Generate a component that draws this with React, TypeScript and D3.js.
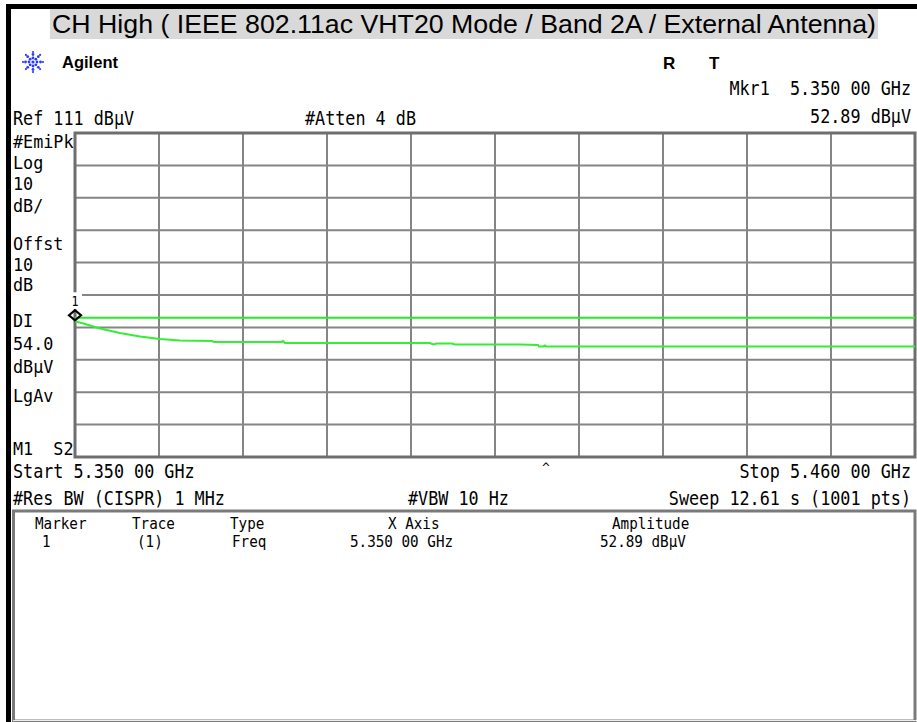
import * as d3 from "d3"

// ---- chart values ----
const TITLE = "CH High ( IEEE 802.11ac VHT20 Mode / Band 2A / External Antenna)"
const REF_LEVEL = 111
const DB_PER_DIV = 10
const DIVS = 10
const START_GHZ = 5.35
const STOP_GHZ = 5.46
const DISPLAY_LINE = 54.0
const MARKER_FREQ = 5.35
const MARKER_AMP = 52.89

const traceFreq = [
  5.35, 5.35131, 5.35327, 5.35589, 5.35851, 5.36113, 5.36375, 5.36794, 5.3682,
  5.37711, 5.37724, 5.3775, 5.39649, 5.39688, 5.3974, 5.39936, 5.39976, 5.40827,
  5.41063, 5.41076, 5.41129, 5.41155, 5.41168, 5.46,
]
const traceAmp = [
  52.89, 52.05, 50.66, 49.27, 48.19, 47.42, 46.96, 46.8, 46.49,
  46.49, 46.8, 46.19, 46.19, 45.73, 46.03, 46.03, 45.73, 45.73,
  45.57, 45.11, 45.11, 45.42, 45.11, 45.11,
]

const sideLabels = ["#EmiPk", "Log", "10", "dB/", "Offst", "10", "dB", "DI", "54.0", "dBµV", "LgAv", "M1  S2"]
const tableHead = ["Marker", "Trace", "Type", "X Axis", "Amplitude"]
const tableRow = ["1", "(1)", "Freq", "5.350 00 GHz", "52.89 dBµV"]

// layout
const W = 917
const H = 722
const plot = { left: 75, right: 915, top: 133, bottom: 457 }
const MONO = "DejaVu Sans Mono"
const SANS = "Liberation Sans, Arial, sans-serif"
const MONO_ADV = 0.602 // DejaVu Sans Mono advance per em

// monospace readout squeezed horizontally like the analyzer's pixel font
function Mono({ x, y, s, anchor = "start", size = 20, adv = 10.1 }: any) {
  const sx = adv / (size * MONO_ADV)
  return (
    <g transform={`translate(${x},${y}) scale(${sx},1)`}>
      <text
        x={0}
        y={0}
        fontFamily={MONO}
        fontSize={size}
        textAnchor={anchor}
        fill="#000"
        style={{ whiteSpace: "pre" }}
      >
        {s}
      </text>
    </g>
  )
}

export default function App() {
  const x = d3.scaleLinear().domain([START_GHZ, STOP_GHZ]).range([plot.left, plot.right])
  const y = d3
    .scaleLinear()
    .domain([REF_LEVEL - DB_PER_DIV * DIVS, REF_LEVEL])
    .range([plot.bottom, plot.top])

  const xGrid = d3.range(1, DIVS).map((i) => START_GHZ + ((STOP_GHZ - START_GHZ) * i) / DIVS)
  const yGrid = d3.range(1, DIVS).map((i) => REF_LEVEL - DB_PER_DIV * i)

  const pts = traceFreq.map((f, i) => [f, traceAmp[i]] as [number, number])
  const line = d3
    .line<[number, number]>()
    .x((d) => x(d[0]))
    .y((d) => y(d[1]))

  const mx = x(MARKER_FREQ)
  const my = y(MARKER_AMP) - 6

  // side label baselines
  const sideY = [148, 169, 190, 212, 250, 271, 291, 327, 350, 373, 402, 455]
  const headX = [35, 132, 230, 388, 612]
  const rowX = [42, 137, 232, 350, 600]

  // logo dots
  const rays = d3.range(8).map((k) => (k * Math.PI) / 4)

  return (
    <svg
      width={W}
      height={H}
      style={{ position: "absolute", left: 0, top: 0, background: "#fff" }}
    >
      <rect x={0} y={0} width={W} height={H} fill="#fff" />

      {/* frame */}
      <rect x={6} y={4} width={W - 6} height={5} fill="#000" />
      <rect x={6} y={4} width={5} height={H - 4} fill="#000" />

      {/* title band */}
      <rect x={50} y={9} width={828} height={30} fill="#d9d9d9" />
      <text
        x={52}
        y={33}
        fontFamily={SANS}
        fontSize={25}
        textLength={824}
        lengthAdjust="spacingAndGlyphs"
      >
        {TITLE}
      </text>

      {/* Agilent logo */}
      <g transform="translate(33,62)" fill="#2b3bff">
        <circle r={1.6} />
        {rays.map((a, k) =>
          [4, 7.5, 10].map((r, j) => (
            <circle key={`${k}-${j}`} cx={Math.cos(a) * r} cy={Math.sin(a) * r} r={j === 2 ? 1.1 : 1.4} />
          ))
        )}
      </g>
      <text x={62} y={68} fontFamily={SANS} fontWeight="bold" fontSize={17} textLength={56} lengthAdjust="spacingAndGlyphs">
        Agilent
      </text>
      <text x={663} y={69} fontFamily={SANS} fontWeight="bold" fontSize={17}>R</text>
      <text x={709} y={69} fontFamily={SANS} fontWeight="bold" fontSize={17}>T</text>

      {/* header readouts */}
      <Mono x={911} y={95} s="Mkr1  5.350 00 GHz" anchor="end" />
      <Mono x={13} y={125} s="Ref 111 dBµV" />
      <Mono x={305} y={125} s="#Atten 4 dB" />
      <Mono x={911} y={123} s="52.89 dBµV" anchor="end" />

      {/* side annotations */}
      {sideLabels.map((s, i) => (
        <Mono key={i} x={13} y={sideY[i]} s={s} size={18} />
      ))}

      {/* graticule */}
      <g stroke="#858585" strokeWidth={2} fill="none">
        {xGrid.map((f, i) => (
          <line key={`v${i}`} x1={x(f)} x2={x(f)} y1={plot.top} y2={plot.bottom} />
        ))}
        {yGrid.map((v, i) => (
          <line key={`h${i}`} x1={plot.left} x2={plot.right} y1={y(v)} y2={y(v)} />
        ))}
      </g>
      <rect
        x={plot.left}
        y={plot.top}
        width={plot.right - plot.left}
        height={plot.bottom - plot.top}
        fill="none"
        stroke="#6e6e6e"
        strokeWidth={3}
      />

      {/* display line */}
      <line x1={plot.left} x2={plot.right} y1={y(DISPLAY_LINE)} y2={y(DISPLAY_LINE)} stroke="#22ee22" strokeWidth={2} />

      {/* trace */}
      <path d={line(pts) ?? ""} fill="none" stroke="#33ee33" strokeWidth={2} />

      {/* marker */}
      <rect x={mx - 7} y={my - 23} width={14} height={17} fill="#fff" />
      <path
        d={`M${mx - 6},${my} L${mx},${my - 5} L${mx + 6},${my} L${mx},${my + 5} Z`}
        fill="none"
        stroke="#000"
        strokeWidth={2.2}
      />
      <Mono x={mx} y={my - 9} s="1" anchor="middle" size={14} adv={7} />

      {/* footer readouts */}
      <Mono x={13} y={478} s="Start 5.350 00 GHz" />
      <text x={546} y={472} fontFamily={MONO} fontSize={13} textAnchor="middle">^</text>
      <Mono x={911} y={478} s="Stop 5.460 00 GHz" anchor="end" />
      <Mono x={13} y={505} s="#Res BW (CISPR) 1 MHz" />
      <Mono x={408} y={505} s="#VBW 10 Hz" />
      <Mono x={911} y={505} s="Sweep 12.61 s (1001 pts)" anchor="end" />

      {/* marker table */}
      <rect x={13.5} y={511} width={901.5} height={210} fill="none" stroke="#7a7a7a" strokeWidth={3} />
      <line x1={13} x2={917} y1={720.5} y2={720.5} stroke="#eee" strokeWidth={1} />
      {tableHead.map((s, i) => (
        <Mono key={`h${i}`} x={headX[i]} y={529} s={s} size={15} adv={8.6} />
      ))}
      {tableRow.map((s, i) => (
        <Mono key={`r${i}`} x={rowX[i]} y={547} s={s} size={15} adv={8.6} />
      ))}
    </svg>
  )
}
